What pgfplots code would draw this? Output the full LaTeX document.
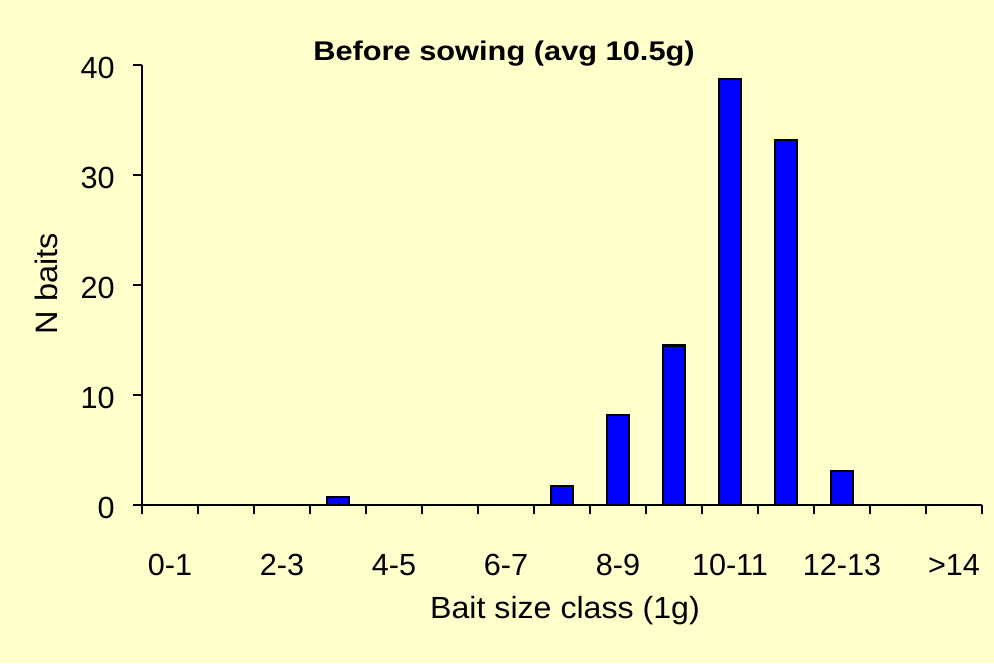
\documentclass[border=0pt]{standalone}
\usepackage{fontspec}
\setmainfont{Liberation Sans}
\newfontfamily\titlefont[FakeStretch=1.14]{Liberation Sans}
\newfontfamily\labelfont[FakeStretch=1.05]{Liberation Sans}
\usepackage{pgfplots}
\pgfplotsset{compat=1.18}
\definecolor{bgyellow}{RGB}{255,255,204}
\definecolor{barblue}{RGB}{0,0,255}

\begin{document}
\begin{tikzpicture}
\useasboundingbox (0,0) rectangle (497pt,331.5pt);
\fill[bgyellow] (0,0) rectangle (497pt,331.5pt);
\begin{axis}[
    at={(71pt,79pt)}, anchor=south west,
    scale only axis,
    width=420pt, height=220pt,
    xmin=0, xmax=15,
    ymin=0, ymax=40,
    axis x line*=bottom,
    axis y line*=left,
    axis line style={-, line width=1.3pt},
    tick align=outside,
    major tick length=4.5pt,
    every tick/.style={black, line width=1pt},
    xtick={0,...,15},
    xticklabels={},
    extra x ticks={0.5,2.5,4.5,6.5,8.5,10.5,12.5,14.5},
    extra x tick labels={0-1,2-3,4-5,6-7,8-9,10-11,12-13,>14},
    extra x tick style={tick style={draw=none},
        tick label style={anchor=base, yshift=-30.8pt, inner sep=0pt}},
    ytick={0,10,20,30,40},
    yticklabel style={anchor=east, inner sep=0pt, xshift=-9pt, yshift=-1.4pt},
    /pgf/number format/assume math mode=true,
    tick label style={font=\fontsize{15.3}{18}\selectfont},
    ybar, bar width=11pt,
]
\addplot[draw=black, line width=1.1pt, fill=barblue] coordinates {
    (0.5,0) (1.5,0) (2.5,0) (3.5,0.7) (4.5,0) (5.5,0) (6.5,0)
    (7.5,1.7) (8.5,8.2) (9.5,14.5) (10.5,38.7) (11.5,33.2)
    (12.5,3.1) (13.5,0) (14.5,0)
};
\end{axis}
\node[anchor=base, inner sep=0pt] at (252pt,301.2pt)
    {\titlefont\bfseries\fontsize{13.5}{16}\selectfont Before sowing (avg 10.5g)};
\node[anchor=base, inner sep=0pt, rotate=90] at (28.5pt,189.75pt)
    {\labelfont\fontsize{15.5}{18}\selectfont N baits};
\node[anchor=base, inner sep=0pt] at (282.5pt,22.3pt)
    {\labelfont\fontsize{15.3}{18}\selectfont Bait size class (1g)};
\end{tikzpicture}
\end{document}
